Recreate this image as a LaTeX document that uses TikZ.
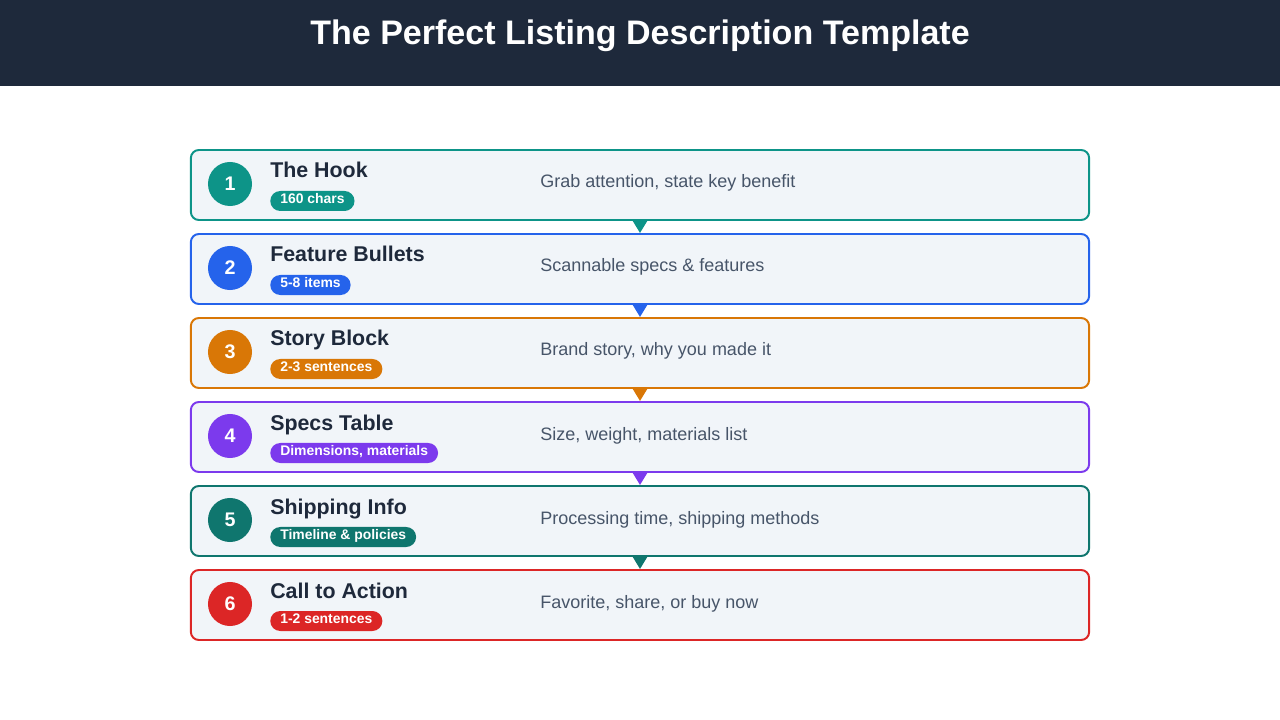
\documentclass[tikz,border=0pt]{standalone}
\usepackage{fontspec}
\setmainfont{Liberation Sans}
\usepackage{xcolor}
\usetikzlibrary{positioning,arrows.meta}

\begin{document}
\begin{tikzpicture}[
		x=0.025cm,y=-0.025cm,
		>=Stealth,
		line cap=round,line join=round
		]
		% ---- colors
		\definecolor{headBg}{HTML}{1E293B}
		\definecolor{cardBg}{HTML}{F1F5F9}
		\definecolor{ttlInk}{HTML}{1E293B}
		\definecolor{descInk}{HTML}{475569}
		\definecolor{col1}{HTML}{0D9488}
		\definecolor{col2}{HTML}{2563EB}
		\definecolor{col3}{HTML}{D97706}
		\definecolor{col4}{HTML}{7C3AED}
		\definecolor{col5}{HTML}{0F766E}
		\definecolor{col6}{HTML}{DC2626}
		
		% ---- parameters (px)
		\def\rowH{84}
		\def\yFirst{185}
		
		\tikzset{
			card/.style={draw, fill=cardBg, line width=1.4pt, rounded corners=0.2cm,
				minimum width=22.45cm, minimum height=1.75cm, inner sep=0pt},
			numdot/.style={circle, minimum size=1.1cm, inner sep=0pt, text=white,
				font=\fontsize{14}{16}\selectfont\bfseries},
			steptitle/.style={inner sep=0pt, text=ttlInk, font=\fontsize{15.2}{18}\selectfont\bfseries},
			badge/.style={rounded corners=0.25cm, minimum height=0.5cm, inner xsep=0.25cm,
				inner ysep=0pt, text height=0.18cm, text depth=0.06cm, text=white,
				font=\fontsize{9.9}{11}\selectfont\bfseries},
			stepdesc/.style={inner sep=0pt, text=descInk, font=\fontsize{12.8}{15}\selectfont},
			flowarrow/.style={-{Triangle[width=0.35cm,length=0.3cm]}, line width=1.4pt}
		}
		
		\useasboundingbox (0,0) rectangle (1280,720);
		
		% ---- header bar
		\fill[headBg] (0,0) rectangle (1280,86);
		\node[text=white, inner sep=0pt, anchor=base, font=\fontsize{24.2}{28}\selectfont\bfseries]
			(title) at (640,45) {The Perfect Listing Description Template};
		
		% ---- steps
		\foreach \i/\ttl/\bdg/\desc in {
			1/The Hook/160 chars/{Grab attention, state key benefit},
			2/Feature Bullets/5-8 items/{Scannable specs \& features},
			3/Story Block/2-3 sentences/{Brand story, why you made it},
			4/Specs Table/{Dimensions, materials}/{Size, weight, materials list},
			5/Shipping Info/{Timeline \& policies}/{Processing time, shipping methods},
			6/Call to Action/1-2 sentences/{Favorite, share, or buy now}}{
			\pgfmathsetmacro{\yc}{\yFirst+(\i-1)*\rowH}
			\node[card, draw=col\i] (card\i) at (640,\yc) {};
			\node[numdot, fill=col\i] (num\i) at (230,\yc-1) {\i};
			\node[steptitle, anchor=base west] (ttl\i) at (270,\yc-7) {\ttl};
			\node[badge, fill=col\i, anchor=west] (bdg\i) at (270,\yc+16) {\bdg};
			\node[stepdesc, anchor=base west] (desc\i) at (540,\yc+3) {\desc};
		}
		
		% ---- arrows between cards
		\foreach \i [evaluate=\i as \j using int(\i+1)] in {1,...,5}{
			\draw[flowarrow, col\i] (card\i.south) -- (card\j.north);
		}
		
	\end{tikzpicture}
\end{document}
